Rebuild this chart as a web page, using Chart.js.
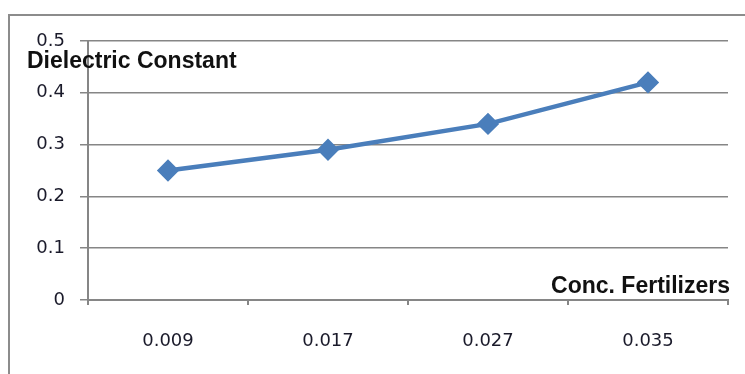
<!DOCTYPE html>
<html>
<head>
<meta charset="utf-8">
<script src="https://cdn.jsdelivr.net/npm/chart.js@4"></script>
<style>
  body { margin: 0; background: #fff; }
  #wrap { position: relative; width: 745px; height: 374px; overflow: hidden; }
  #frame { position: absolute; left: 8px; top: 14px; width: 800px; height: 400px; border: 2px solid #8c8c8c; }
  canvas { position: absolute; left: 0; top: 0; }
</style>
</head>
<body>
<div id="wrap">
  <div id="frame"></div>
  <canvas id="grafico" width="745" height="374"></canvas>
</div>
<script>
// datos
const categorias = ["0.009", "0.017", "0.027", "0.035"];
const constante = [0.25, 0.29, 0.34, 0.42];
const tituloY = "Dielectric Constant";
const tituloX = "Conc. Fertilizers";

const azul = '#4a7ebb';
const gris = '#868686';

// titulos dentro del area del grafico, como en el original
const titulos = {
  id: 'titulos',
  afterDraw(chart) {
    const ctx = chart.ctx;
    const area = chart.chartArea;
    ctx.save();
    ctx.fillStyle = '#111';
    ctx.font = 'bold 23px "Liberation Sans"';
    ctx.textBaseline = 'middle';
    ctx.textAlign = 'left';
    ctx.fillText(tituloY, area.left - 61, area.top + 21, 213);
    ctx.textAlign = 'right';
    ctx.fillText(tituloX, area.right + 2, area.bottom - 13, 180);
    ctx.restore();
  }
};

const ctx = document.getElementById("grafico").getContext("2d");
new Chart(ctx, {
  type: 'line',
  data: {
    labels: categorias,
    datasets: [{
      label: tituloY,
      data: constante,
      borderColor: azul,
      backgroundColor: azul,
      borderWidth: 4.5,
      pointStyle: 'rectRot',
      pointRadius: 8,
      pointHoverRadius: 8,
      tension: 0
    }]
  },
  options: {
    responsive: false,
    animation: false,
    layout: { padding: { left: 0, top: 41, right: 17, bottom: 0 } },
    plugins: { legend: { display: false }, tooltip: { enabled: false } },
    scales: {
      x: {
        offset: true,
        grid: { offset: true, drawOnChartArea: false, drawTicks: true, tickLength: 5, color: gris, lineWidth: 2 },
        border: { color: gris, width: 2 },
        ticks: { color: '#1a1a2a', padding: 26, font: { family: 'DejaVu Sans', size: 18 } },
        afterFit(scale) { scale.height = 74; }
      },
      y: {
        min: 0,
        max: 0.5,
        ticks: { stepSize: 0.1, color: '#1a1a2a', padding: 15, font: { family: 'DejaVu Sans', size: 18 } },
        grid: { color: gris, lineWidth: 1.5, tickLength: 8 },
        border: { color: gris, width: 2 },
        afterFit(scale) { scale.width = 88; }
      }
    }
  },
  plugins: [titulos]
});
</script>
</body>
</html>
